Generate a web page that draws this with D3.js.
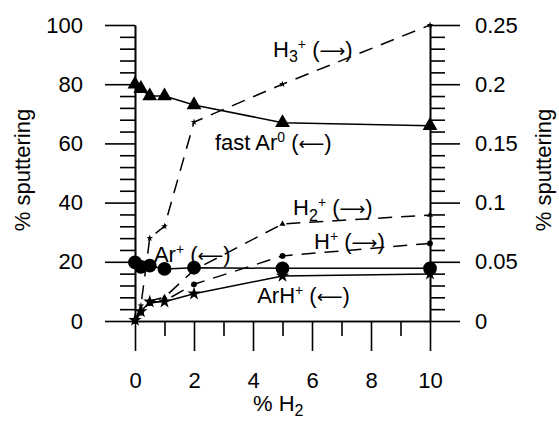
<!DOCTYPE html>
<html>
<head>
<meta charset="utf-8">
<script src="https://cdn.jsdelivr.net/npm/d3@7"></script>
<style>
  html, body { margin: 0; padding: 0; background: #fff; }
  svg { display: block; font-family: "Liberation Sans", Arial, Helvetica, sans-serif; }
</style>
</head>
<body>
<svg id="chart" width="559" height="422"></svg>
<script>
// Hydrogen content of the discharge gas (% H2)
const h2Percent = [0, 0.2, 0.5, 1, 2, 5, 10];

// Left-axis series (% sputtering)
const fastAr0 = [80, 78.5, 76, 76, 73, 67, 66];
const arPlus  = [19.8, 18.3, 18.7, 17.6, 18, 17.8, 17.8];
const arHPlus = [0.3, 3.2, 6.5, 6.5, 9.2, 15.2, 15.9];

// Right-axis series (% sputtering)
const h3Plus = [0, 0.013, 0.070, 0.080, 0.168, 0.200, 0.250];
const h2Plus = [0, 0.008, 0.017, 0.020, 0.043, 0.082, 0.0895];
const hPlus  = [0, 0.007, 0.015, 0.017, 0.031, 0.055, 0.0655];

// Tick values
const xTicks = [0, 2, 4, 6, 8, 10];
const xMinorTicks = [1, 3, 5, 7, 9];
const leftTicks = [0, 20, 40, 60, 80, 100];
const rightTicks = [0, 0.05, 0.1, 0.15, 0.2, 0.25];

const svg = d3.select("#chart");
const FS = 22;

const x = d3.scaleLinear().domain([0, 10]).range([135, 430]);
const yL = d3.scaleLinear().domain([0, 100]).range([321, 25]);
const yR = d3.scaleLinear().domain([0, 0.25]).range([321, 25]);

function styleAxis(g) {
  g.selectAll("path, line").attr("stroke", "#000").attr("stroke-width", 1.6);
  g.selectAll("text").attr("font-size", FS).attr("fill", "#000")
    .attr("font-family", "Liberation Sans, Arial, sans-serif");
}

// Minor ticks
const leftMinor = d3.range(0, 101, 4).filter(v => v % 20 !== 0);
const rightMinor = d3.range(0, 26, 1).map(v => v / 100).filter((v, i) => i % 5 !== 0);

svg.append("g").attr("transform", `translate(${x(0)},0)`)
  .call(d3.axisLeft(yL).tickValues(leftMinor).tickSize(15).tickSizeOuter(0).tickFormat(""))
  .call(styleAxis);
svg.append("g").attr("transform", `translate(${x(10)},0)`)
  .call(d3.axisRight(yR).tickValues(rightMinor).tickSize(15).tickSizeOuter(0).tickFormat(""))
  .call(styleAxis);
svg.append("g").attr("transform", `translate(0,${yL(0)})`)
  .call(d3.axisBottom(x).tickValues(xMinorTicks).tickSize(15).tickSizeOuter(0).tickFormat(""))
  .call(styleAxis);

// Major axes
svg.append("g").attr("transform", `translate(${x(0)},0)`)
  .call(d3.axisLeft(yL).tickValues(leftTicks).tickSize(30).tickPadding(22).tickSizeOuter(0))
  .call(styleAxis);
svg.append("g").attr("transform", `translate(${x(10)},0)`)
  .call(d3.axisRight(yR).tickValues(rightTicks).tickSize(30).tickPadding(15).tickSizeOuter(0)
        .tickFormat(d3.format("~g")))
  .call(styleAxis);
svg.append("g").attr("transform", `translate(0,${yL(0)})`)
  .call(d3.axisBottom(x).tickValues(xTicks).tickSize(30).tickPadding(21).tickSizeOuter(0))
  .call(styleAxis);

// Axis titles
svg.append("text")
  .attr("transform", `translate(30,${(yL(0) + yL(100)) / 2 - 3}) rotate(-90)`)
  .attr("text-anchor", "middle").attr("font-size", FS).text("% sputtering");
svg.append("text")
  .attr("transform", `translate(551,${(yL(0) + yL(100)) / 2 - 3}) rotate(-90)`)
  .attr("text-anchor", "middle").attr("font-size", FS).text("% sputtering");
const xt = svg.append("text").attr("x", 253).attr("y", 411).attr("font-size", FS);
xt.append("tspan").text("% H");
xt.append("tspan").attr("dy", 5).attr("font-size", 16).text("2");

// Series definitions
const series = [
  { vals: h3Plus, y: yR, dashed: true,  sym: d3.symbolStar,     size: 14 },
  { vals: h2Plus, y: yR, dashed: true,  sym: d3.symbolTriangle, size: 16 },
  { vals: hPlus,  y: yR, dashed: true,  sym: d3.symbolCircle,   size: 26 },
  { vals: fastAr0, y: yL, dashed: false, sym: d3.symbolTriangle, size: 95 },
  { vals: arPlus,  y: yL, dashed: false, sym: d3.symbolCircle,   size: 150 },
  { vals: arHPlus, y: yL, dashed: false, sym: d3.symbolStar,     size: 55 }
];

series.forEach(s => {
  const line = d3.line().x((d, i) => x(h2Percent[i])).y(d => s.y(d));
  svg.append("path")
    .attr("d", line(s.vals))
    .attr("fill", "none").attr("stroke", "#000").attr("stroke-width", 1.5)
    .attr("stroke-dasharray", s.dashed ? "14,9" : null);
});
series.forEach(s => {
  const sym = d3.symbol().type(s.sym).size(s.size);
  svg.append("g").selectAll("path")
    .data(s.vals).join("path")
    .attr("transform", (d, i) => `translate(${x(h2Percent[i])},${s.y(d)})`)
    .attr("d", sym()).attr("fill", "#000");
});

// Series labels: name with sub/superscripts, then the axis-direction arrow
function label(px, py, parts, arrow) {
  const t = svg.append("text").attr("x", px).attr("y", py).attr("font-size", FS).attr("fill", "#000");
  parts.forEach(p => {
    const ts = t.append("tspan").text(p.t);
    if (p.dy) ts.attr("dy", p.dy);
    if (p.fs) ts.attr("font-size", p.fs);
  });
  t.append("tspan").attr("dy", 8).text(" (");
  t.append("tspan").attr("font-family", "DejaVu Sans").attr("font-size", 18).text(arrow);
  t.append("tspan").text(")");
}
const R = "\u27F6", L = "\u27F5";
label(x(4.68), 57, [{ t: "H" }, { t: "3", dy: 5, fs: 16 }, { t: "+", dy: -13, fs: 14 }], R);
label(x(2.71), 150, [{ t: "fast Ar" }, { t: "0", dy: -8, fs: 14 }], L);
label(x(5.36), 215, [{ t: "H" }, { t: "2", dy: 6, fs: 16 }, { t: "+", dy: -14, fs: 14 }], R);
label(x(6.07), 248.5, [{ t: "H" }, { t: "+", dy: -8, fs: 14 }], R);
label(x(0.64), 261.7, [{ t: "Ar" }, { t: "+", dy: -8, fs: 14 }], L);
label(x(4.14), 303, [{ t: "ArH" }, { t: "+", dy: -8, fs: 14 }], L);
</script>
</body>
</html>
